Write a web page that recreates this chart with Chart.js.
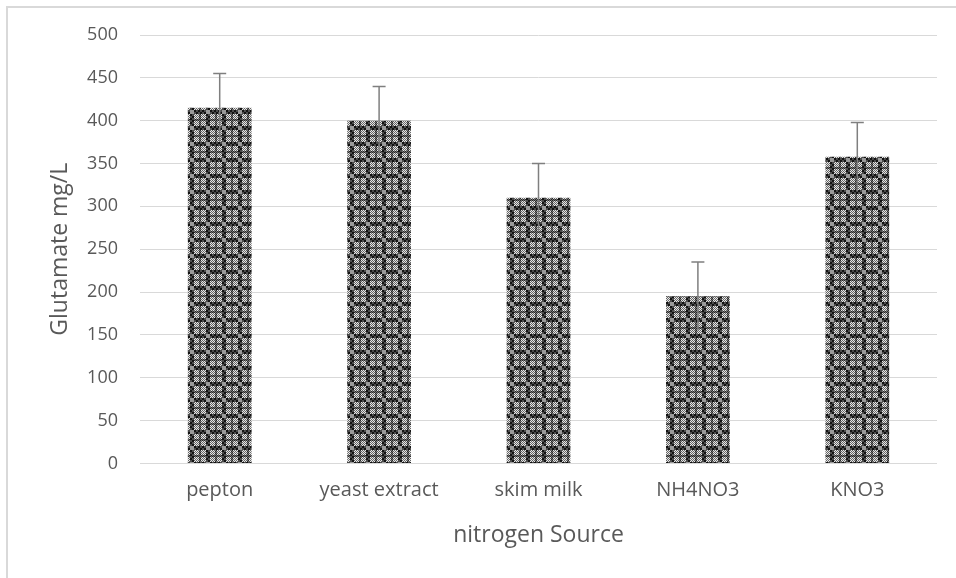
<!DOCTYPE html>
<html><head><meta charset="utf-8">
<script src="https://cdn.jsdelivr.net/npm/chart.js@4"></script>
<style>html,body{margin:0;padding:0;background:#fff;}#wrap{width:956px;height:578px;position:relative;}</style>
</head><body><div id="wrap"><canvas id="c" width="956" height="578"></canvas></div>
<script>
const categories = ["pepton", "yeast extract", "skim milk", "NH4NO3", "KNO3"];
const glutamate = [415, 400, 310, 195, 358];
const errors = [40, 40, 40, 40, 40];
const yTicks = [0, 50, 100, 150, 200, 250, 300, 350, 400, 450, 500];

function makePattern() {
  const t = document.createElement('canvas');
  t.width = 16; t.height = 16;
  const g = t.getContext('2d');
  g.fillStyle = '#ffffff'; g.fillRect(0, 0, 16, 16);
  for (let y = 0; y < 16; y++) {
    for (let x = 0; x < 16; x++) {
      const ex = (x < 2 || x > 13), ey = (y < 2 || y > 13);
      let c = null;
      if (ex && ey) {
        c = '#9a9a9a';
      } else if (ex || ey) {
        c = (((x >> 1) + (y >> 1)) % 2 === 0) ? '#121212' : '#4a4a4a';
      } else if (x === 7 || x === 8 || y === 7 || y === 8) {
        c = ((x + y) % 2 === 0) ? '#262626' : '#7a7a7a';
      } else {
        c = ((x + y) % 2 === 0) ? '#666666' : '#e6e6e6';
      }
      g.fillStyle = c; g.fillRect(x, y, 1, 1);
    }
  }
  return document.getElementById('c').getContext('2d').createPattern(t, 'repeat');
}

const borderPlugin = {
  id: 'frame',
  beforeDraw(chart) {
    const ctx = chart.ctx;
    ctx.save();
    ctx.fillStyle = '#ffffff';
    ctx.fillRect(0, 0, chart.width, chart.height);
    ctx.strokeStyle = '#d9d9d9';
    ctx.lineWidth = 2;
    ctx.beginPath();
    ctx.moveTo(7, chart.height + 5);
    ctx.lineTo(7, 7);
    ctx.lineTo(chart.width + 5, 7);
    ctx.stroke();
    ctx.restore();
  }
};

const errorPlugin = {
  id: 'errbars',
  afterDatasetsDraw(chart) {
    const ctx = chart.ctx;
    const meta = chart.getDatasetMeta(0);
    const ys = chart.scales.y;
    ctx.save();
    ctx.strokeStyle = '#7f7f7f';
    ctx.lineWidth = 1.5;
    meta.data.forEach((bar, i) => {
      const x = bar.x;
      const top = ys.getPixelForValue(glutamate[i] + errors[i]);
      const bot = ys.getPixelForValue(glutamate[i] - errors[i]);
      ctx.beginPath();
      ctx.moveTo(x, bot); ctx.lineTo(x, top);
      ctx.moveTo(x - 6.5, top); ctx.lineTo(x + 6.5, top);
      ctx.stroke();
    });
    ctx.restore();
  }
};

Chart.defaults.font.family = "'Open Sans', 'Liberation Sans', sans-serif";
Chart.defaults.color = '#595959';

new Chart(document.getElementById('c'), {
  type: 'bar',
  data: {
    labels: categories,
    datasets: [{
      label: 'Glutamate',
      data: glutamate,
      backgroundColor: makePattern(),
      borderWidth: 0,
      barPercentage: 0.4,
      categoryPercentage: 1.0
    }]
  },
  options: {
    responsive: false,
    animation: false,
    devicePixelRatio: 1,
    layout: { padding: { top: 35, right: 19, bottom: 29, left: 0 } },
    plugins: { legend: { display: false }, tooltip: { enabled: false } },
    scales: {
      x: {
        grid: { display: false, drawTicks: false },
        border: { display: false },
        ticks: { font: { size: 20 }, color: '#595959', padding: 15 },
        title: { display: true, text: 'nitrogen Source', font: { size: 23 }, color: '#595959', padding: { top: 4, bottom: 0 } }
      },
      y: {
        min: 0, max: 500,
        afterBuildTicks(s) { s.ticks = yTicks.map(v => ({ value: v })); },
        afterFit(s) { s.width = 140; },
        grid: { color: '#d9d9d9', lineWidth: 1, drawTicks: false },
        border: { display: false },
        ticks: { font: { size: 18 }, color: '#595959', padding: 22 },
        title: { display: true, text: 'Glutamate mg/L', font: { size: 23 }, color: '#595959', padding: { top: 47, bottom: 0 } }
      }
    }
  },
  plugins: [borderPlugin, errorPlugin]
});
</script></body></html>
